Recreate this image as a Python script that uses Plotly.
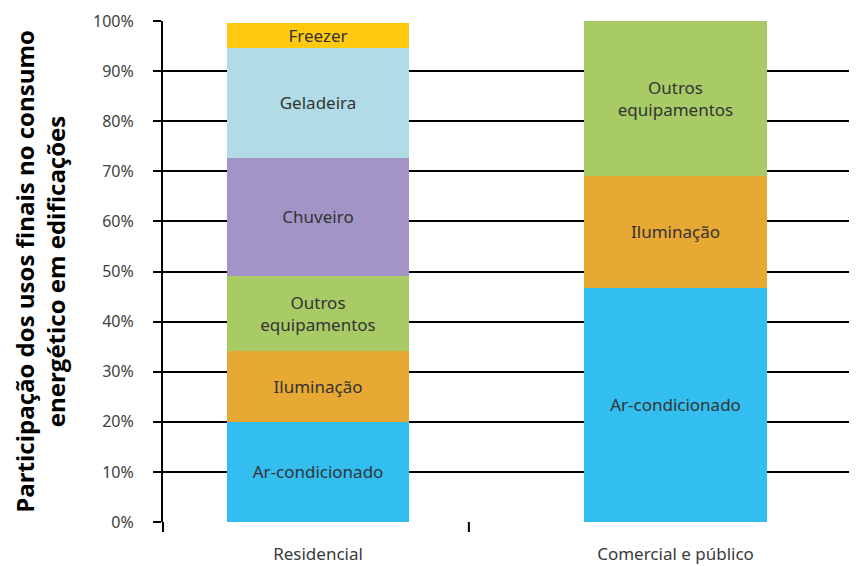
import plotly.graph_objects as go

# categories and shares (%)
categories = ["Residencial", "Comercial e público"]

uses = ["Ar-condicionado", "Iluminação", "Outros<br>equipamentos",
        "Chuveiro", "Geladeira", "Freezer"]
residencial = [20.0, 14.1, 15.0, 23.6, 21.9, 5.0]
comercial = [46.8, 22.3, 30.9, None, None, None]

colors = ["#33BEF0", "#E8A834", "#A8CB66", "#A294C6", "#B2DCE5", "#FFCA0E"]

y_ticks = list(range(0, 101, 10))
y_tick_text = [f"{v}%" for v in y_ticks]

fig = go.Figure()
for i, use in enumerate(uses):
    vals = [residencial[i], comercial[i]]
    fig.add_trace(
        go.Bar(
            x=categories,
            y=vals,
            name=use.replace("<br>", " "),
            marker_color=colors[i],
            marker_line_width=0,
            text=[use if v else "" for v in vals],
            textposition="inside",
            insidetextanchor="middle",
            textangle=0,
            textfont={"size": 17, "color": "#333333", "family": "Noto Sans"},
            hoverinfo="skip",
            width=0.51,
        )
    )

# the page body adds an 8px offset, so the figure is sized to fit inside it
fig.update_layout(
    barmode="stack",
    width=849,
    height=558,
    margin={"l": 155, "r": 0, "t": 13, "b": 44},
    plot_bgcolor="white",
    paper_bgcolor="white",
    showlegend=False,
    uniformtext={"minsize": 16, "mode": "show"},
    font={"family": "Noto Sans", "color": "#404040"},
)

fig.update_xaxes(
    range=[-0.4336, 1.5077],
    automargin=False,
    showgrid=False,
    ticks="",
    tickfont={"size": 17, "color": "#3a3a3a"},
    ticklabelstandoff=20,
)

fig.update_yaxes(
    range=[0, 100],
    automargin=False,
    tickvals=y_ticks,
    ticktext=y_tick_text,
    tickfont={"size": 16, "color": "#404040"},
    ticks="outside",
    ticklen=8,
    tickwidth=2,
    tickcolor="black",
    ticklabelstandoff=16,
    showgrid=True,
    gridcolor="black",
    gridwidth=2,
    showline=True,
    linecolor="black",
    linewidth=2,
    zeroline=False,
    title={
        "text": "Participação dos usos finais no consumo<br>energético em edificações",
        "font": {"size": 24, "color": "black", "family": "Open Sans", "weight": "bold"},
        "standoff": 50,
    },
)

# axis line runs a little below zero, plus the category separator tick
fig.add_shape(type="line", xref="paper", yref="paper", x0=0, x1=0, y0=0, y1=-0.02,
              line={"color": "black", "width": 2})
fig.add_shape(type="line", xref="x", yref="paper", x0=0.422, x1=0.422, y0=0, y1=-0.02,
              line={"color": "black", "width": 2})

fig.write_html("out.html")
